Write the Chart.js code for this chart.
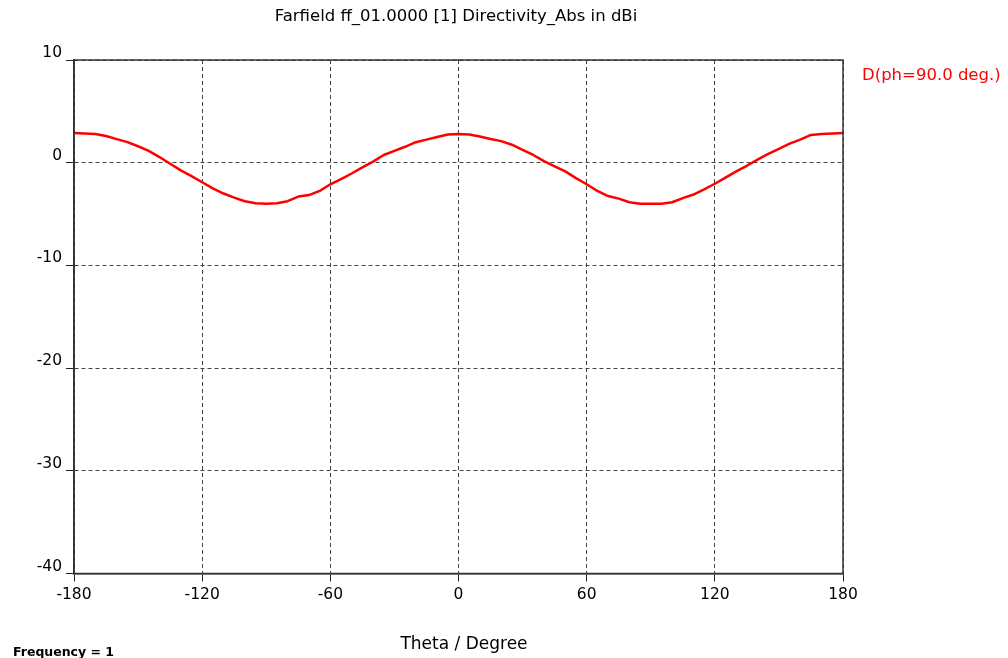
<!DOCTYPE html>
<html>
<head>
<meta charset="utf-8">
<title>Farfield Directivity</title>
<script src="https://cdn.jsdelivr.net/npm/chart.js@4.4.0/dist/chart.umd.min.js"></script>
<style>
    body { margin: 0; background: #fff; }
    canvas { display: block; }
</style>
</head>
<body>
<canvas id="farfieldChart" width="1008" height="658"></canvas>
<script>
// Theta in degrees, 5 deg steps
const thetaDeg = [
    -180, -175, -170, -165, -160, -155, -150, -145, -140, -135, -130, -125, -120,
    -115, -110, -105, -100, -95, -90, -85, -80, -75, -70, -65, -60,
    -55, -50, -45, -40, -35, -30, -25, -20, -15, -10, -5, 0,
    5, 10, 15, 20, 25, 30, 35, 40, 45, 50, 55, 60,
    65, 70, 75, 80, 85, 90, 95, 100, 105, 110, 115, 120,
    125, 130, 135, 140, 145, 150, 155, 160, 165, 170, 175, 180
];

// D(ph=90.0 deg.) in dBi
const directivity = [
    2.9, 2.85, 2.8, 2.6, 2.3, 2.0, 1.6, 1.15, 0.55, -0.1, -0.75, -1.3, -1.9,
    -2.5, -3.0, -3.4, -3.75, -3.95, -4.0, -3.95, -3.75, -3.3, -3.15, -2.75, -2.1,
    -1.6, -1.05, -0.45, 0.1, 0.75, 1.15, 1.55, 2.0, 2.25, 2.5, 2.75, 2.8,
    2.75, 2.55, 2.3, 2.1, 1.75, 1.25, 0.75, 0.15, -0.35, -0.85, -1.5, -2.1,
    -2.75, -3.25, -3.5, -3.85, -4.0, -4.0, -4.0, -3.85, -3.45, -3.1, -2.6, -2.05,
    -1.45, -0.85, -0.3, 0.3, 0.85, 1.35, 1.85, 2.25, 2.7, 2.8, 2.85, 2.9
];

const xTicks = [-180, -120, -60, 0, 60, 120, 180];
const yTicks = [10, 0, -10, -20, -30, -40];

const titleText = 'Farfield ff_01.0000 [1] Directivity_Abs in dBi';
const seriesLabel = 'D(ph=90.0 deg.)';
const xAxisText = 'Theta / Degree';
const footText = 'Frequency = 1';

const FONT = '"DejaVu Sans", Verdana, sans-serif';

// frame + extra texts
const decorations = {
    id: 'decorations',
    afterDraw(chart) {
        const ctx = chart.ctx;
        const a = chart.chartArea;
        ctx.save();
        ctx.strokeStyle = '#333';
        ctx.lineWidth = 1.5;
        ctx.setLineDash([]);
        ctx.strokeRect(a.left, a.top, a.right - a.left, a.bottom - a.top);

        ctx.fillStyle = '#000';
        ctx.textBaseline = 'alphabetic';
        ctx.textAlign = 'center';
        ctx.font = '16.5px ' + FONT;
        ctx.fillText(titleText, 456, 20.5);

        ctx.font = '17px ' + FONT;
        ctx.fillText(xAxisText, 464, 648.5);

        ctx.textAlign = 'left';
        ctx.font = 'bold 12.5px ' + FONT;
        ctx.fillText(footText, 13, 656);

        ctx.fillStyle = '#ff0000';
        ctx.font = '16.5px ' + FONT;
        ctx.fillText(seriesLabel, 862, 80);
        ctx.restore();
    }
};

document.addEventListener('DOMContentLoaded', function() {
    const ctx = document.getElementById('farfieldChart');
    new Chart(ctx, {
        type: 'line',
        data: {
            datasets: [{
                label: seriesLabel,
                data: thetaDeg.map((t, i) => ({ x: t, y: directivity[i] })),
                borderColor: '#ff0000',
                borderWidth: 2.5,
                pointRadius: 0,
                tension: 0,
                fill: false,
                borderJoinStyle: 'round'
            }]
        },
        options: {
            responsive: false,
            animation: false,
            devicePixelRatio: 1,
            layout: {
                padding: { left: 0, top: 60, right: 165, bottom: 0 }
            },
            plugins: {
                legend: { display: false },
                title: { display: false },
                tooltip: { enabled: false }
            },
            scales: {
                x: {
                    type: 'linear',
                    min: -180,
                    max: 180,
                    afterBuildTicks: function(scale) {
                        scale.ticks = xTicks.map(v => ({ value: v }));
                    },
                    afterFit: function(scale) {
                        scale.height = 84.5;
                    },
                    ticks: {
                        color: '#000',
                        padding: 4,
                        maxRotation: 0,
                        font: { family: FONT, size: 15.5 }
                    },
                    grid: {
                        color: '#444',
                        tickColor: '#222',
                        tickLength: 8,
                        lineWidth: 1
                    },
                    border: { color: '#222', width: 1.5, dash: [4, 3] }
                },
                y: {
                    min: -40,
                    max: 10,
                    afterBuildTicks: function(scale) {
                        scale.ticks = yTicks.map(v => ({ value: v }));
                    },
                    afterFit: function(scale) {
                        scale.width = 74;
                    },
                    ticks: {
                        color: '#000',
                        padding: 4,
                        labelOffset: -7,
                        font: { family: FONT, size: 15.5 }
                    },
                    grid: {
                        color: '#444',
                        tickColor: '#222',
                        tickLength: 8,
                        lineWidth: 1
                    },
                    border: { color: '#222', width: 1.5, dash: [4, 3] }
                }
            }
        },
        plugins: [decorations]
    });
});
</script>
</body>
</html>
